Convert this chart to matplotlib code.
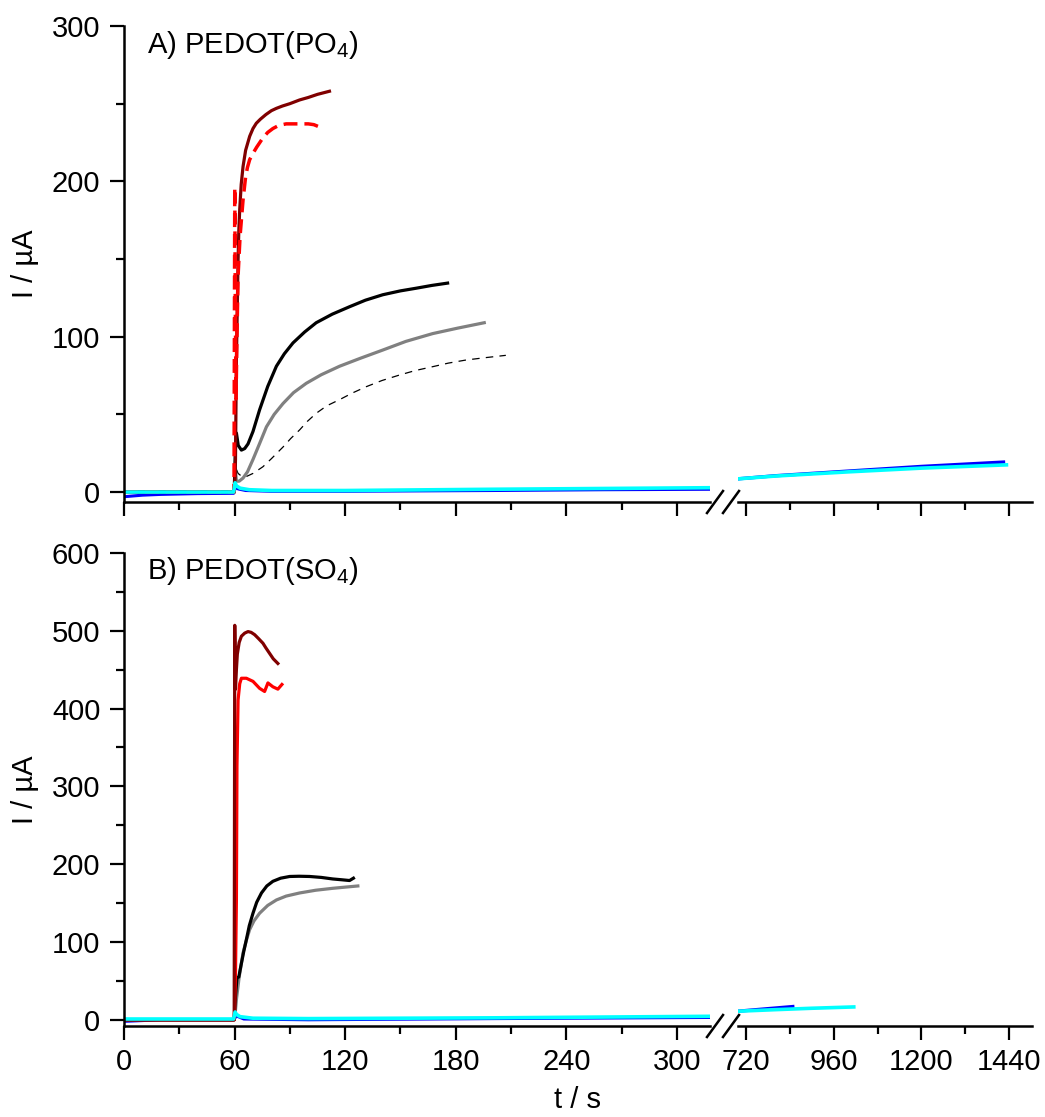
import numpy as np
import matplotlib
matplotlib.use('Agg')
import matplotlib.pyplot as plt
from matplotlib.lines import Line2D
from matplotlib.ticker import MultipleLocator, FixedLocator

plt.rcParams['font.family'] = ['Liberation Sans', 'DejaVu Sans']
plt.rcParams['mathtext.fontset'] = 'custom'
plt.rcParams['mathtext.rm'] = 'Liberation Sans'
plt.rcParams['mathtext.it'] = 'Liberation Sans:italic'

# ---- panel A: PEDOT(PO4), time in s, current in uA ----
a_dred_t = [0, 59.8, 60.3, 60.5, 61.0, 61.5, 61.9, 62.3, 62.8, 63.6, 64.6, 66.0, 68.2, 70.0, 71.8,
            74, 77, 80, 82.7, 86, 90, 95.3, 100, 105, 111.5]
a_dred_i = [0, 0, 10, 21, 85, 120, 149, 168, 182, 198, 209.5, 220, 229, 234, 237.4,
            240, 243, 245.5, 247, 248.5, 250, 252.4, 254, 256, 258]
a_red_t = [0, 59.7, 60.1, 60.4, 60.8, 61.3, 61.9, 63.0, 64.6, 66.0, 67.0, 68.2, 70.0, 72.0, 75.4,
           78, 80.8, 84, 88, 95.3, 100, 103, 106.1]
a_red_i = [0, 0, 196, 120, 60, 100, 139, 165, 188, 203, 209, 214, 218, 222, 228,
           231.5, 234, 236, 237, 237, 237, 236.5, 235]
a_blk_t = [0, 59.8, 60.5, 61.0, 62.0, 63.7, 65.5, 67.3, 70, 73.6, 78, 82.7, 87, 91.7, 98, 104.3,
           113, 122.4, 131, 140.4, 150, 158.5, 167, 175.6]
a_blk_i = [0, 0, 30, 38, 30, 27, 28, 31, 39, 53, 68, 81, 89, 96, 103, 109,
           114.5, 119.3, 123.5, 127, 129.5, 131.2, 133, 134.5]
a_gry_t = [0, 59.8, 60.4, 61.0, 62.5, 64.6, 67, 70.0, 73.5, 77.3, 81.5, 86.3, 92, 98.9, 107,
           117, 128, 140.4, 153, 167.5, 181, 195.5]
a_gry_i = [0, 0, 15, 7, 7, 9, 13, 21, 31, 42, 50, 57, 64, 70, 75.5,
           81, 86, 91.4, 97, 102, 105.5, 109]
a_dsh_t = [0, 59.8, 60.5, 61.9, 64, 66.4, 70, 75.4, 80, 86.3, 90.5, 95.3, 99.5, 104.3, 110, 117,
           124, 131.4, 140, 149.4, 158, 167.5, 176, 185.6, 196, 207.2]
a_dsh_i = [0, 0, 16, 12, 10, 10, 12, 16.3, 21.5, 29, 34.5, 40, 45.5, 50.7, 55.5, 59.5,
           63.8, 67.8, 71.8, 75.3, 78.2, 80.7, 83, 85, 86.5, 88]
a_blu_t = [0, 10, 20, 40, 59.5, 60.5, 62, 66, 80, 120, 200, 260, 319]
a_blu_i = [-3, -2, -1.5, -1, -0.8, 3, 2, 1, 0.5, 0.5, 1, 1.5, 1.8]
a_cyn_t = [0, 59.5, 60.3, 61, 63, 68, 80, 120, 200, 319]
a_cyn_i = [0, 0, 6, 4, 2.5, 1.5, 1, 1, 1.8, 2.8]
a_blu_t2 = [698, 800, 1000, 1200, 1425]
a_blu_i2 = [8.5, 10.5, 13.5, 16.5, 19.3]
a_cyn_t2 = [698, 800, 1000, 1200, 1433]
a_cyn_i2 = [8.5, 10.3, 13.0, 15.4, 17.5]

# ---- panel B: PEDOT(SO4) ----
b_dred_t = [0, 59.8, 60.1, 60.5, 61.0, 61.5, 62.5, 63.7, 65.5, 67.3, 69, 70.9, 73, 75.4, 77, 79, 81, 83.5]
b_dred_i = [0, 0, 507, 425, 450, 470, 485, 493, 497, 499, 498, 495, 490, 484, 478, 471, 464, 458]
b_red_t = [0, 59.9, 60.5, 61.0, 61.3, 61.9, 62.8, 63.7, 66.4, 70.0, 73.6, 76.3, 78.1, 80.8, 83.5, 85.7]
b_red_i = [0, 0, 60, 154, 326, 411, 432, 439, 439, 435, 426, 422, 433, 428, 425, 431]
b_blk_t = [0, 59.8, 60.5, 61.3, 62.3, 63.5, 65, 66.4, 68, 70, 72, 74.6, 77.5, 80.8, 85, 89.9, 95,
           100.7, 107, 113.3, 118, 122.4, 124.5]
b_blk_i = [0, 0, 30, 54, 55, 70, 88, 103, 121, 137, 151, 163, 172, 178, 182, 184.2, 184.5,
           184.2, 183, 181, 180, 179, 182]
b_gry_t = [0, 59.8, 60.4, 61.0, 62.5, 64.6, 66.5, 68.2, 70.5, 73.6, 78, 82.7, 88, 95.3, 104,
           113.3, 120, 126.9]
b_gry_i = [0, 0, 10, 26, 55, 86, 103, 116, 127, 137, 147, 154, 159, 163, 166.5,
           169, 170.5, 172]
b_blu_t = [0, 20, 59.5, 61, 65, 100, 200, 319]
b_blu_i = [-2, 0, 0, 5, 1, 0, 1.5, 3]
b_cyn_t = [0, 59.5, 60.3, 61, 63, 70, 100, 200, 319]
b_cyn_i = [1, 1, 10, 7, 4, 2, 1.5, 2.5, 4.5]
b_blu_t2 = [698, 760, 848]
b_blu_i2 = [11, 13.5, 17]
b_cyn_t2 = [698, 800, 900, 1015]
b_cyn_i2 = [11, 13, 14.8, 16.5]

left_ticks = [0, 60, 120, 180, 240, 300]
right_ticks = [720, 960, 1200, 1440]

W, H = 1045, 1117
fig = plt.figure(figsize=(W / 100, H / 100), dpi=100)


def rect(x0, y0, x1, y1):
    # pixel box (top-left origin) -> figure fraction
    return [x0 / W, 1 - y1 / H, (x1 - x0) / W, (y1 - y0) / H]


def style(ax, left_side):
    for s in ['top', 'right']:
        ax.spines[s].set_visible(False)
    ax.spines['bottom'].set_linewidth(1.8)
    ax.spines['left'].set_linewidth(1.8)
    ax.tick_params(which='major', direction='out', length=10, width=1.6, labelsize=21)
    ax.tick_params(which='minor', direction='out', length=6, width=1.6)
    ax.tick_params(axis='x', pad=6)
    ax.tick_params(axis='y', pad=7)
    if not left_side:
        ax.spines['left'].set_visible(False)
        ax.tick_params(axis='y', which='both', left=False, labelleft=False)


def break_marks(axl, axr):
    # two slashes in the gap between left and right axes
    p1 = axl.get_position()
    yb = p1.y0
    dx = 16 / W
    dy = 22 / H
    for x in [p1.x1 - 3 / W, p1.x1 + 13 / W]:
        fig.add_artist(Line2D([x, x + dx], [yb - dy / 2, yb + dy / 2], color='black',
                              lw=1.8, transform=fig.transFigure))


panels = [
    dict(box=(26, 502), ylim=(-6.4, 300), ymaj=100, ymin=50, title='A) PEDOT(PO$_4$)',
         left=[(a_blu_t, a_blu_i, '#0000ff', '-', 2.2), (a_dsh_t, a_dsh_i, 'black', (0, (6, 5)), 0.9),
               (a_gry_t, a_gry_i, '#808080', '-', 2.3), (a_blk_t, a_blk_i, 'black', '-', 2.3),
               (a_dred_t, a_dred_i, '#800000', '-', 2.3), (a_red_t, a_red_i, '#ff0000', (0, (4, 2)), 2.5),
               (a_cyn_t, a_cyn_i, '#00ffff', '-', 2.6)],
         right=[(a_blu_t2, a_blu_i2, '#0000ff', '-', 2.4), (a_cyn_t2, a_cyn_i2, '#00ffff', '-', 2.6)]),
    dict(box=(553, 1026), ylim=(-8, 600), ymaj=100, ymin=50, title='B) PEDOT(SO$_4$)',
         left=[(b_blu_t, b_blu_i, '#0000ff', '-', 2.2), (b_gry_t, b_gry_i, '#808080', '-', 2.3),
               (b_blk_t, b_blk_i, 'black', '-', 2.3), (b_red_t, b_red_i, '#ff0000', '-', 2.3),
               (b_dred_t, b_dred_i, '#800000', '-', 2.3), (b_cyn_t, b_cyn_i, '#00ffff', '-', 2.6)],
         right=[(b_blu_t2, b_blu_i2, '#0000ff', '-', 2.4), (b_cyn_t2, b_cyn_i2, '#00ffff', '-', 2.6)]),
]

for k, p in enumerate(panels):
    y0, y1 = p['box']
    axl = fig.add_axes(rect(124, y0, 710, y1))
    axr = fig.add_axes(rect(738, y0, 1032, y1), sharey=axl)
    for t, i, c, ls, lw in p['left']:
        axl.plot(t, i, color=c, ls=ls, lw=lw)
    for t, i, c, ls, lw in p['right']:
        axr.plot(t, i, color=c, ls=ls, lw=lw)
    axl.set_xlim(0, 318)
    axr.set_xlim(698, 1503)
    axl.set_ylim(*p['ylim'])
    style(axl, True)
    style(axr, False)
    axl.xaxis.set_major_locator(FixedLocator(left_ticks))
    axl.xaxis.set_minor_locator(MultipleLocator(30))
    axr.xaxis.set_major_locator(FixedLocator(right_ticks))
    axr.xaxis.set_minor_locator(FixedLocator([840, 1080, 1320]))
    axl.yaxis.set_major_locator(MultipleLocator(p['ymaj']))
    axl.yaxis.set_minor_locator(MultipleLocator(p['ymin']))
    axl.set_ylabel('I / µA', fontsize=21, labelpad=9)
    axl.text(0.039, 0.944, p['title'], transform=axl.transAxes, fontsize=21, va='baseline')
    if k == 0:
        axl.tick_params(axis='x', labelbottom=False)
        axr.tick_params(axis='x', labelbottom=False)
    break_marks(axl, axr)

fig.text(578 / W, 1 - 1100 / H, 't / s', fontsize=21, ha='center', va='center')

fig.savefig('out.png', dpi=100)
